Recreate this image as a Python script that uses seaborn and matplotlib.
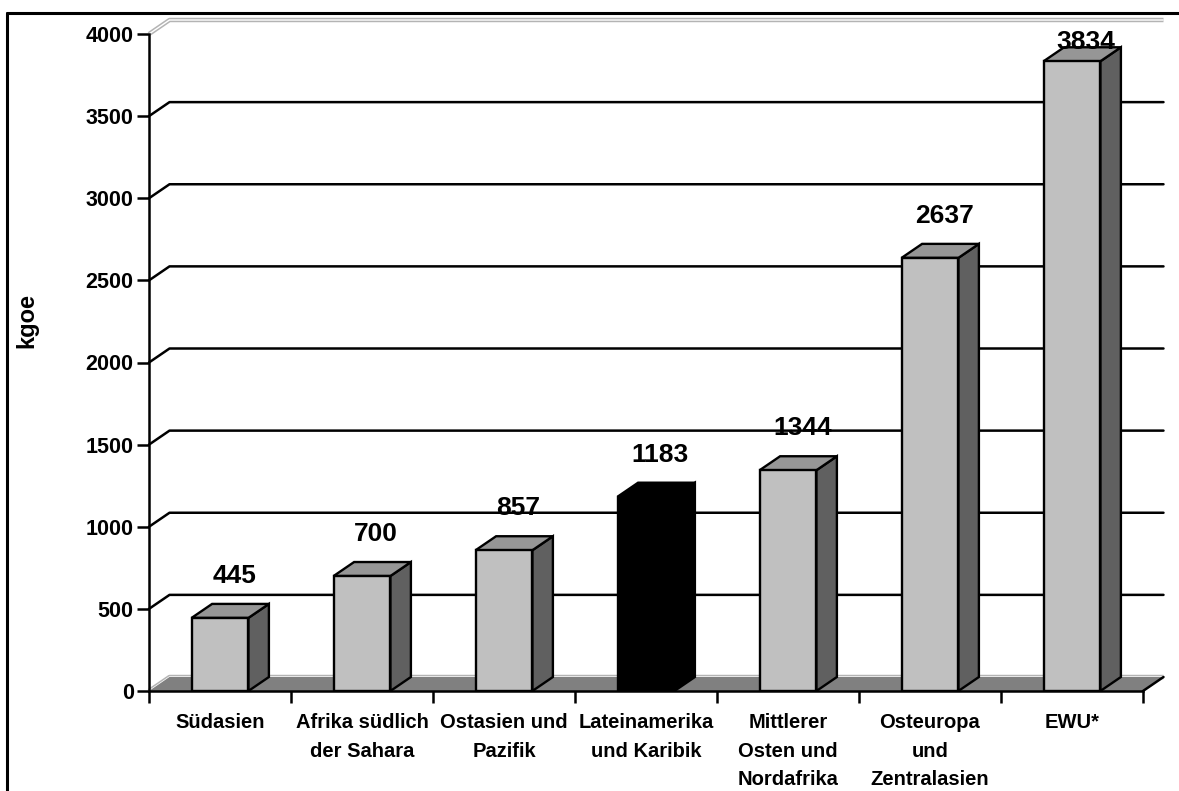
import matplotlib
matplotlib.use("Agg")
import matplotlib.pyplot as plt
from matplotlib.patches import Polygon
from matplotlib.lines import Line2D
import seaborn as sns

# Energy use per capita by region
categories = [
    "Südasien",
    "Afrika südlich\nder Sahara",
    "Ostasien und\nPazifik",
    "Lateinamerika\nund Karibik",
    "Mittlerer\nOsten und\nNordafrika",
    "Osteuropa\nund\nZentralasien",
    "EWU*",
]
values = [445, 700, 857, 1183, 1344, 2637, 3834]
highlight = "Lateinamerika\nund Karibik"
y_ticks = [0, 500, 1000, 1500, 2000, 2500, 3000, 3500, 4000]
y_label = "kgoe"

FRONT = "#c0c0c0"
TOP = "#969696"
SIDE = "#606060"
FLOOR = "#808080"
HILITE = "#000000"

sns.set_theme(style="white")
plt.rcParams["font.family"] = ["Liberation Sans", "DejaVu Sans"]
plt.rcParams["font.weight"] = "bold"
for key in ("text.color", "axes.labelcolor", "xtick.color", "ytick.color"):
    plt.rcParams[key] = "black"

W, H = 1179, 791
fig = plt.figure(figsize=(W / 100, H / 100), dpi=100)

# plot area in pixels
px_left, px_zero = 149, 691
px_cat = 142.0
px_unit = 657.0 / 4000.0
depth_px_x, depth_px_y = 20.5, 14.0
ddx = depth_px_x / px_cat
ddy = depth_px_y / px_unit

x_lo, x_hi = -0.5, len(categories) - 0.5 + ddx
y_lo, y_hi = 0, 4110
ax = fig.add_axes([
    px_left / W,
    (H - px_zero) / H,
    (x_hi - x_lo) * px_cat / W,
    (y_hi - y_lo) * px_unit / H,
])
ax.patch.set_alpha(0)

EDGE_LW = 1.7
palette = {c: (HILITE if c == highlight else FRONT) for c in categories}
sns.barplot(
    x=categories, y=values, hue=categories, palette=palette, width=0.4,
    edgecolor="black", linewidth=EDGE_LW, saturation=1, legend=False, ax=ax,
    zorder=4,
)
ax.set_xlim(x_lo, x_hi)
ax.set_ylim(y_lo, y_hi)

# back wall gridlines and their slanted joins to the value axis
x0 = -0.5
x1 = len(categories) - 0.5
for v in y_ticks:
    if v in (0, 4000):
        for lw, col, z in ((3.2, "#b4b4b4", 1), (1.0, "white", 1.1)):
            ax.plot([x0, x0 + ddx, x1 + ddx], [v, v + ddy, v + ddy],
                    color=col, lw=lw, zorder=z, clip_on=False,
                    solid_capstyle="butt")
    else:
        ax.plot([x0, x0 + ddx, x1 + ddx], [v, v + ddy, v + ddy],
                color="black", lw=1.8, zorder=1, clip_on=False)

# floor
floor = Polygon([(x0, 0), (x1, 0), (x1 + ddx, ddy), (x0 + ddx, ddy)],
                closed=True, facecolor=FLOOR, edgecolor="none", zorder=1.5)
ax.add_patch(floor)
ax.plot([x1, x1 + ddx], [0, ddy], color="black", lw=1.8, zorder=1.6,
        clip_on=False)

# 3D faces for each bar
for patch, cat, val in zip(ax.patches, categories, values):
    bx = patch.get_x()
    bw = patch.get_width()
    bh = patch.get_height()
    is_hi = cat == highlight
    top_c = HILITE if is_hi else TOP
    side_c = HILITE if is_hi else SIDE
    top = Polygon([(bx, bh), (bx + ddx, bh + ddy), (bx + bw + ddx, bh + ddy),
                   (bx + bw, bh)], closed=True, facecolor=top_c,
                  edgecolor="black", lw=EDGE_LW, zorder=4, joinstyle="miter")
    side = Polygon([(bx + bw, 0), (bx + bw + ddx, ddy),
                    (bx + bw + ddx, bh + ddy), (bx + bw, bh)], closed=True,
                   facecolor=side_c, edgecolor="black", lw=EDGE_LW, zorder=4,
                   joinstyle="miter")
    ax.add_patch(side)
    ax.add_patch(top)
    patch.set_zorder(4.5)
    label_y = min(val + 255, 3950)
    ax.text(bx + bw / 2 + 0.1, label_y, f"{val}", ha="center", va="center",
            fontsize=19, fontweight="bold", color="black", zorder=6,
            clip_on=False)

# axes styling
for s in ("top", "right"):
    ax.spines[s].set_visible(False)
ax.spines["left"].set_bounds(0, 4000)
ax.spines["bottom"].set_bounds(x0, x1)
for s in ("left", "bottom"):
    ax.spines[s].set_color("black")
    ax.spines[s].set_linewidth(1.8)
    ax.spines[s].set_zorder(5)

ax.set_yticks(y_ticks)
ax.set_yticklabels([str(t) for t in y_ticks], fontsize=15.5,
                   fontweight="bold", color="black")
ax.tick_params(axis="y", direction="out", length=9, width=1.8, pad=2,
               left=True, colors="black")
ax.set_xticks(range(len(categories)))
ax.set_xticklabels(categories, fontsize=14.5, fontweight="bold",
                   linespacing=1.62, va="top", color="black")
ax.set_xticks([i - 0.5 for i in range(len(categories) + 1)], minor=True)
ax.tick_params(axis="x", which="major", length=0, pad=16, bottom=False)
ax.tick_params(axis="x", which="minor", direction="out", length=8.5,
               width=1.8, bottom=True, colors="black")
ax.set_xlabel("")
ax.set_ylabel("")
ax.grid(False)

fig.text(27 / W, 1 - 320 / H, y_label, rotation=90, ha="center", va="center",
         fontsize=17, fontweight="bold", color="black")

# outer frame
fig.add_artist(Line2D([7.5 / W, 7.5 / W], [0, 1 - 13 / H], color="black",
                      lw=2.2, transform=fig.transFigure))
fig.add_artist(Line2D([7.5 / W, 1], [1 - 13 / H, 1 - 13 / H], color="black",
                      lw=2.2, transform=fig.transFigure))

fig.savefig("out.png", dpi=100)
